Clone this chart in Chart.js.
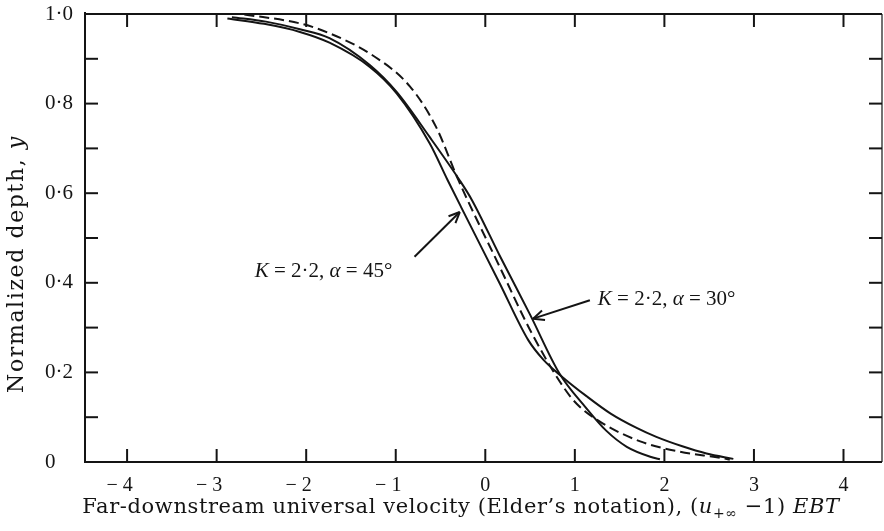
<!DOCTYPE html>
<html>
<head>
<meta charset="utf-8">
<script src="https://cdn.jsdelivr.net/npm/chart.js@4.4.1/dist/chart.umd.min.js"></script>
<style>
  html, body { margin: 0; padding: 0; background: #fff; }
  canvas { display: block; }
</style>
</head>
<body>
<canvas id="chart" width="884" height="531"></canvas>
<script>
// Normalized depth y against far-downstream universal velocity (u+inf - 1) EBT

// K = 2.2, alpha = 45 deg (solid)
const alpha45X = [-2.88, -2.47, -2.07, -1.74, -1.29, -0.99, -0.62, -0.42, -0.27, 0.16, 0.48, 0.65, 0.83, 1.13, 1.40, 1.69, 1.91, 2.20, 2.47, 2.77];
const alpha45Y = [0.990, 0.978, 0.960, 0.936, 0.882, 0.823, 0.711, 0.629, 0.569, 0.399, 0.272, 0.228, 0.195, 0.147, 0.108, 0.076, 0.056, 0.035, 0.019, 0.007];

// K = 2.2, alpha = 30 deg (solid)
const alpha30X = [-2.83, -2.45, -2.07, -1.74, -1.29, -0.99, -0.62, -0.29, -0.15, 0.16, 0.50, 0.83, 1.12, 1.35, 1.58, 1.87, 1.95];
const alpha30Y = [0.993, 0.983, 0.966, 0.946, 0.886, 0.826, 0.725, 0.630, 0.585, 0.461, 0.329, 0.197, 0.122, 0.070, 0.034, 0.010, 0.006];

// unlabelled comparison profile (dashed)
const dashedX = [-2.69, -2.07, -1.74, -1.26, -0.84, -0.55, -0.30, 0.16, 0.52, 0.87, 1.02, 1.28, 1.73, 2.17, 2.66, 2.73];
const dashedY = [0.999, 0.979, 0.957, 0.908, 0.838, 0.748, 0.629, 0.436, 0.287, 0.168, 0.130, 0.090, 0.046, 0.023, 0.008, 0.005];

// axis ticks
const xTickValues = [-4, -3, -2, -1, 0, 1, 2, 3, 4];
const xTickLabels = ['\u22124', '\u22123', '\u22122', '\u22121', '0', '1', '2', '3', '4'];
const yTickValues = [0, 0.1, 0.2, 0.3, 0.4, 0.5, 0.6, 0.7, 0.8, 0.9, 1.0];
const yTickLabels = ['0', '', '0\u00b72', '', '0\u00b74', '', '0\u00b76', '', '0\u00b78', '', '1\u00b70'];

// curve labels with arrows (data coordinates)
const notes = [
  { parts: ['K', ' = 2\u00b72, ', '\u03b1', ' = 45\u00b0'], textX: -2.575, textY: 0.4126,
    tail: [-0.79, 0.458], head: [-0.285, 0.558] },
  { parts: ['K', ' = 2\u00b72, ', '\u03b1', ' = 30\u00b0'], textX: 1.257, textY: 0.350,
    tail: [1.168, 0.361], head: [0.534, 0.320] }
];

const INK = '#141414';
const toPoints = (xs, ys) => xs.map((x, i) => ({ x: x, y: ys[i] }));

function drawRuns(ctx, runs, x, y, align, spacing) {
  ctx.letterSpacing = (spacing || 0) + 'px';
  let total = 0;
  runs.forEach(r => { ctx.font = r.font; r.w = ctx.measureText(r.text).width; total += r.w; });
  let cx = align === 'center' ? x - total / 2 : (align === 'right' ? x - total : x);
  ctx.textAlign = 'left';
  ctx.textBaseline = 'alphabetic';
  runs.forEach(r => { ctx.font = r.font; ctx.fillText(r.text, cx, y + (r.dy || 0)); cx += r.w; });
  ctx.letterSpacing = '0px';
  return total;
}

function seg(ctx, x1, y1, x2, y2) {
  ctx.beginPath(); ctx.moveTo(x1, y1); ctx.lineTo(x2, y2); ctx.stroke();
}

const framePlugin = {
  id: 'frameTicksNotes',
  afterDraw(chart) {
    const { ctx, chartArea: a, scales } = chart;
    const xs = scales.x, ys = scales.y;
    ctx.save();
    ctx.strokeStyle = INK;
    ctx.fillStyle = INK;
    ctx.lineCap = 'butt';

    // frame
    ctx.lineWidth = 2;
    seg(ctx, a.left, a.top - 2, a.left, a.bottom + 1);
    seg(ctx, a.left - 1, a.bottom, a.right, a.bottom);
    seg(ctx, a.left - 1, a.top, a.right, a.top);
    ctx.lineWidth = 1.2;
    seg(ctx, a.right, a.top, a.right, a.bottom);

    // inward tick marks on all four sides
    const len = 13;
    ctx.lineWidth = 2;
    xTickValues.forEach(v => {
      const px = xs.getPixelForValue(v);
      seg(ctx, px, a.bottom, px, a.bottom - len);
      seg(ctx, px, a.top, px, a.top + len);
    });
    yTickValues.forEach(v => {
      if (v <= 0 || v >= 1) return;
      const py = ys.getPixelForValue(v);
      seg(ctx, a.left, py, a.left + len, py);
      seg(ctx, a.right, py, a.right - len, py);
    });

    // curve labels and arrows
    const serif = 'Liberation Serif';
    notes.forEach(n => {
      const runs = [
        { text: n.parts[0], font: 'italic 21px "' + serif + '"' },
        { text: n.parts[1], font: '21px "' + serif + '"' },
        { text: n.parts[2], font: 'italic 21px "' + serif + '"' },
        { text: n.parts[3], font: '21px "' + serif + '"' }
      ];
      drawRuns(ctx, runs, xs.getPixelForValue(n.textX), ys.getPixelForValue(n.textY), 'left');
      const tx = xs.getPixelForValue(n.tail[0]), ty = ys.getPixelForValue(n.tail[1]);
      const hx = xs.getPixelForValue(n.head[0]), hy = ys.getPixelForValue(n.head[1]);
      ctx.lineWidth = 2;
      seg(ctx, tx, ty, hx, hy);
      const ang = Math.atan2(hy - ty, hx - tx);
      const hl = 12, spread = 0.42;
      seg(ctx, hx, hy, hx - hl * Math.cos(ang - spread), hy - hl * Math.sin(ang - spread));
      seg(ctx, hx, hy, hx - hl * Math.cos(ang + spread), hy - hl * Math.sin(ang + spread));
    });

    // axis titles
    const tf = 'DejaVu Serif';
    drawRuns(ctx, [
      { text: 'Far-downstream universal velocity (Elder\u2019s notation), (', font: '21px "' + tf + '"' },
      { text: 'u', font: 'italic 21px "' + tf + '"' },
      { text: '+\u221e', font: '14px "' + tf + '"', dy: 5 },
      { text: ' \u22121) ', font: '21px "' + tf + '"' },
      { text: 'EBT', font: 'italic 21px "' + tf + '"' }
    ], 461, 513, 'center', 0.6);

    ctx.translate(23, 264);
    ctx.rotate(-Math.PI / 2);
    drawRuns(ctx, [
      { text: 'Normalized depth, ', font: '22px "' + tf + '"' },
      { text: 'y', font: 'italic 22px "' + tf + '"' }
    ], 0, 0, 'center', 1.6);
    ctx.restore();
  }
};

const lineStyle = {
  showLine: true,
  borderColor: INK,
  borderWidth: 2,
  pointRadius: 0,
  pointHoverRadius: 0,
  fill: false,
  cubicInterpolationMode: 'monotone'
};

new Chart(document.getElementById('chart'), {
  type: 'scatter',
  data: {
    datasets: [
      Object.assign({ label: 'K = 2\u00b72, \u03b1 = 45\u00b0', data: toPoints(alpha45X, alpha45Y) }, lineStyle),
      Object.assign({ label: 'K = 2\u00b72, \u03b1 = 30\u00b0', data: toPoints(alpha30X, alpha30Y) }, lineStyle),
      Object.assign({ label: 'dashed', data: toPoints(dashedX, dashedY), borderDash: [10, 5] }, lineStyle)
    ]
  },
  options: {
    responsive: false,
    animation: false,
    devicePixelRatio: 1,
    layout: { padding: { left: 45, top: 14, right: 2, bottom: 0 } },
    plugins: { legend: { display: false }, tooltip: { enabled: false } },
    scales: {
      x: {
        type: 'linear',
        min: -4.47,
        max: 4.43,
        afterBuildTicks: s => { s.ticks = xTickValues.map(v => ({ value: v })); },
        afterFit: s => { s.height = 69; },
        grid: { display: false, drawTicks: false },
        border: { display: false },
        ticks: {
          autoSkip: false,
          maxRotation: 0,
          padding: 12,
          color: INK,
          font: { family: 'Liberation Serif', size: 20 },
          callback: (v, i) => {
            const t = xTickLabels[i];
            // keep the digit centred on its tick, the minus hanging to the left
            return t.charAt(0) === '\u2212' ? '\u2212 ' + t.slice(1) + '   ' : t;
          }
        }
      },
      y: {
        type: 'linear',
        min: 0,
        max: 1,
        afterBuildTicks: s => { s.ticks = yTickValues.map(v => ({ value: v })); },
        afterFit: s => { s.width = 40; },
        grid: { display: false, drawTicks: false },
        border: { display: false },
        ticks: {
          autoSkip: false,
          crossAlign: 'far',
          padding: 0,
          color: INK,
          font: { family: 'Liberation Serif', size: 21 },
          callback: (v, i) => yTickLabels[i]
        }
      }
    }
  },
  plugins: [framePlugin]
});
</script>
</body>
</html>
